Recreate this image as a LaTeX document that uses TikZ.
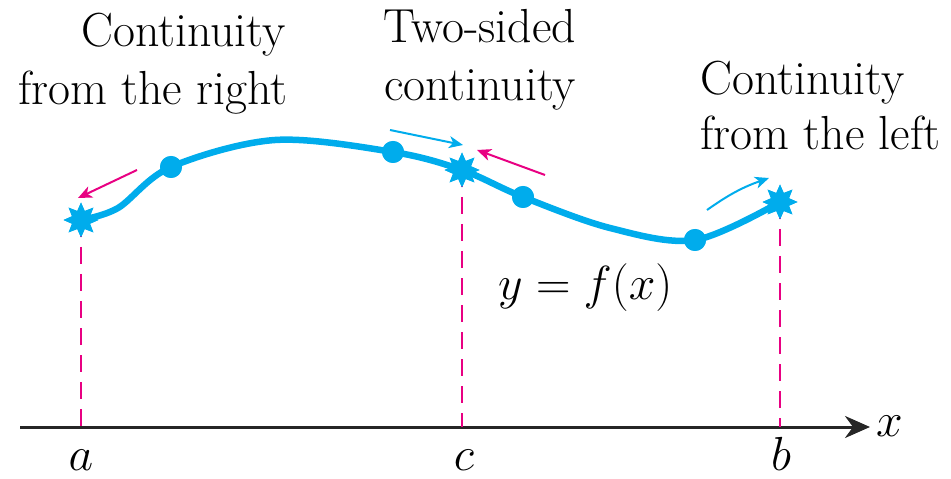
\RequirePackage{fix-cm}
\documentclass[tikz,border=0pt]{standalone}
\usepackage{fontspec}
\usetikzlibrary{arrows.meta,shapes.geometric}
\definecolor{cblue}{RGB}{0,172,236}
\definecolor{cmag}{RGB}{232,0,130}
\tikzset{
  lbl/.style={inner sep=0pt, font=\fontsize{48}{58}\selectfont\rmfamily},
  dotnode/.style={circle, fill=cblue, inner sep=0pt, minimum size=22bp},
  starnode/.style={star, star points=8, star point ratio=1.8, fill=cblue, inner sep=0pt, minimum size=35bp},
  curve/.style={cblue, line width=6.5bp, line cap=round},
  guide/.style={cmag, line width=2.6bp, dash pattern=on 17bp off 10bp},
  barrow/.style={cblue, line width=2bp, -{Stealth[length=14bp,width=12bp,inset=4bp]}},
  marrow/.style={cmag, line width=2bp, -{Stealth[length=14bp,width=12bp,inset=4bp]}},
  axisline/.style={black!85, line width=3bp, -{Stealth[length=25bp,width=22bp,inset=8bp]}}
}
\begin{document}
\begin{tikzpicture}[x=1bp,y=-1bp]
\useasboundingbox (0,0) rectangle (951,479);
% axis
\coordinate (ax0) at (20,427);
\coordinate (ax1) at (870,427);
\draw[axisline] (ax0) -- (ax1);
\node[lbl, anchor=base west] (xl) at (876,436) {$x$};
% points
\node[starnode] (A) at (81,220) {};
\node[starnode] (C) at (462,170) {};
\node[starnode] (B) at (780,202) {};
\node[dotnode] (P1) at (171,167) {};
\node[dotnode] (P2) at (393,152) {};
\node[dotnode] (P3) at (523,197) {};
\node[dotnode] (P4) at (695,240) {};
\coordinate (q0) at (118,208);
\coordinate (pk) at (275,140);
\coordinate (mid) at (610,228);
% axis feet
\coordinate (Aa) at (81,427);
\coordinate (Ca) at (462,427);
\coordinate (Ba) at (780,427);
\draw[guide] (A.center) -- (Aa);
\draw[guide] (C.center) -- (Ca);
\draw[guide] (B.center) -- (Ba);
% curve
\draw[curve] plot[smooth, tension=0.55] coordinates {(A) (q0) (P1) (pk) (P2) (C) (P3) (mid) (P4) (B)};
\node[starnode] at (A) {};
\node[starnode] at (C) {};
\node[starnode] at (B) {};
\node[dotnode] at (P1) {};
\node[dotnode] at (P2) {};
\node[dotnode] at (P3) {};
\node[dotnode] at (P4) {};
% arrows
\coordinate (a1s) at (137,170); \coordinate (a1e) at (78,198);
\draw[marrow] (a1s) -- (a1e);
\coordinate (c1s) at (390,130); \coordinate (c1e) at (463,145);
\draw[barrow] (c1s) -- (c1e);
\coordinate (c2s) at (545,175); \coordinate (c2e) at (477,150);
\draw[marrow] (c2s) -- (c2e);
\coordinate (b1s) at (707,210); \coordinate (b1e) at (769,178);
\draw[barrow] (b1s) to[bend left=8] (b1e);
% labels
\node[lbl, anchor=base east] (t1) at (286,47) {Continuity};
\node[lbl, anchor=base east] (t2) at (288,105) {from the right};
\node[lbl, anchor=base west] (t3) at (383,43) {Two-sided};
\node[lbl, anchor=base west] (t4) at (384,101) {continuity};
\node[lbl, anchor=base west] (t5) at (700,95) {Continuity};
\node[lbl, anchor=base west] (t6) at (700,150) {from the left};
\node[lbl, anchor=base west] (fx) at (498,300) {$y=f(x)$};
\node[lbl, anchor=base] (la) at (81,470) {$a$};
\node[lbl, anchor=base] (lc) at (464,470) {$c$};
\node[lbl, anchor=base] (lb) at (781,470) {$b$};
\end{tikzpicture}
\end{document}
